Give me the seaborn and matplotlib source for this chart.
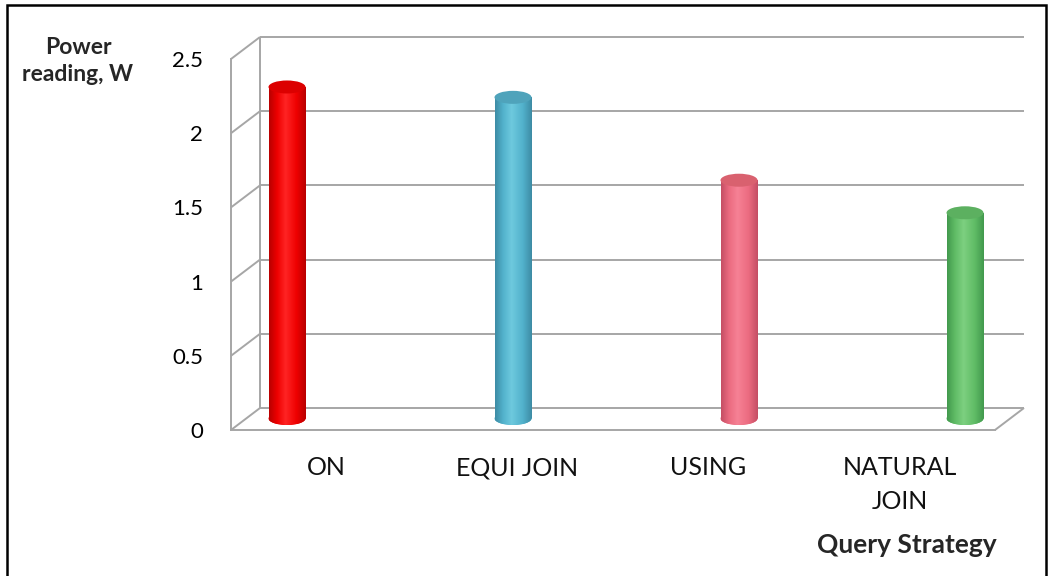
import numpy as np
import matplotlib
matplotlib.use("Agg")
import matplotlib.pyplot as plt
from matplotlib.colors import LinearSegmentedColormap
from matplotlib.patches import Ellipse, Rectangle
import seaborn as sns

# Data
categories = ["ON", "EQUI JOIN", "USING", "NATURAL\nJOIN"]
power_w = [2.24, 2.17, 1.61, 1.39]
y_ticks = [0, 0.5, 1, 1.5, 2, 2.5]
y_tick_labels = ["0", "0.5", "1", "1.5", "2", "2.5"]

# Cylinder shading: (dark edge, body, highlight, top face)
shades = [
    ("#b80000", "#ee0000", "#ff2424", "#dc0000"),
    ("#3d8ba4", "#52b2cc", "#6ec9de", "#4fa3bb"),
    ("#c44e64", "#eb6b80", "#f68195", "#d9616f"),
    ("#42994d", "#60bc66", "#7dd080", "#5cb060"),
]

sns.set_style("white")
plt.rcParams["font.family"] = ["Lato", "DejaVu Sans"]

W, H = 1051, 576
fig = plt.figure(figsize=(W / 100, H / 100), dpi=100)
fig.patch.set_facecolor("white")


def px_rect(left, top, right, bottom):
    return [left / W, 1 - bottom / H, (right - left) / W, (bottom - top) / H]


grid_c = "#a6a6a6"

# ---- Frame: front axis, floor and back wall ----
ax = fig.add_axes(px_rect(231, 59, 995, 430))
ax.set_xlim(0, 4)
ax.set_ylim(0, 2.5)
ax.patch.set_alpha(0)
for s in ("top", "right"):
    ax.spines[s].set_visible(False)
for s in ("left", "bottom"):
    ax.spines[s].set_color(grid_c)
    ax.spines[s].set_linewidth(1.4)

ax.set_yticks(y_ticks, y_tick_labels)
ax.set_xticks([0, 1, 2, 3, 4], [""] * 5)
ax.set_xticks([0.5, 1.5, 2.5, 3.5], categories, minor=True)
ax.tick_params(axis="y", which="major", length=7, width=1.2, color=grid_c,
               labelsize=16, pad=13, labelcolor="black")
ax.tick_params(axis="x", which="major", length=8, width=1.2, color=grid_c)
ax.tick_params(axis="x", which="minor", length=0, pad=19, labelsize=18,
               labelcolor="#111111")
for lbl in ax.get_xticklabels(minor=True):
    lbl.set_linespacing(1.55)
    lbl.set_multialignment("center")

# depth offset of the back wall, in data units
dx = 29 * 4 / 764
dy = 22 * 2.5 / 371
line_kw = dict(color=grid_c, lw=1.4, clip_on=False, solid_capstyle="butt")
for yv in y_ticks:
    ax.plot([0, dx], [yv, yv + dy], **line_kw)
    ax.plot([dx, 4 + dx], [yv + dy, yv + dy], **line_kw)
ax.plot([dx, dx], [dy, 2.5 + dy], **line_kw)
ax.plot([4, 4 + dx], [0, dy], **line_kw)

# ---- Cylinders on the mid-depth plane ----
y_lo = -0.06
scale_px = 148.0
bx = fig.add_axes(px_rect(245.5, 48.5, 1009.5, 418.5 - y_lo * scale_px))
bx.patch.set_alpha(0)
bar_w = 37 / 226
sns.barplot(x=categories, y=power_w, hue=categories,
            palette=[s[1] for s in shades], width=bar_w, ax=bx,
            legend=False, saturation=1, edgecolor="none")

ell_h = 13 / scale_px
grad = np.linspace(0, 1, 256).reshape(1, -1)
for patch, (dark, body, light, top) in zip(list(bx.patches), shades):
    x0 = patch.get_x()
    w = patch.get_width()
    h = patch.get_height()
    cx = x0 + w / 2
    cmap = LinearSegmentedColormap.from_list(
        "cyl", [(0, dark), (0.22, body), (0.45, light), (0.75, body), (1, dark)])
    patch.set_zorder(2)
    im = bx.imshow(grad, cmap=cmap, aspect="auto",
                   extent=(x0, x0 + w, 0, h), zorder=3)
    im.set_clip_path(patch)
    base = Ellipse((cx, 0), w, ell_h, facecolor=body, edgecolor="none", zorder=2)
    bx.add_patch(base)
    im2 = bx.imshow(grad, cmap=cmap, aspect="auto",
                    extent=(x0, x0 + w, -ell_h / 2, ell_h / 2), zorder=3)
    im2.set_clip_path(base)
    cap = Ellipse((cx, h), w, ell_h, facecolor=top, edgecolor="none", zorder=4)
    bx.add_patch(cap)

bx.set_xlim((245.5 - 287) / 226, (1009.5 - 287) / 226)
bx.set_ylim(y_lo, 2.5)
bx.axis("off")

# ---- Titles ----
fig.text(78 / W, 1 - 61 / H, "Power\nreading, W", ha="center", va="center",
         fontsize=16.5, fontweight="bold", linespacing=1.35)
fig.text(907 / W, 1 - 545 / H, "Query Strategy", ha="center", va="center",
         fontsize=19, fontweight="bold")

# Outer border
fig.add_artist(Rectangle((7 / W, -0.02), (1046 - 7) / W, 1 - 5 / H + 0.02,
                         transform=fig.transFigure, fill=False,
                         edgecolor="black", lw=1.8))

fig.savefig("out.png", dpi=100, facecolor="white")
